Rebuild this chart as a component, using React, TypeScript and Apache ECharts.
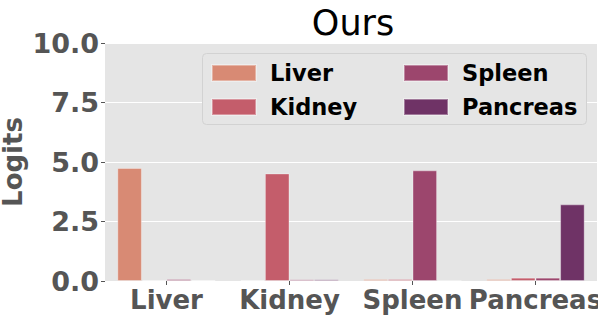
import React, { useEffect, useRef } from "react";
import * as echarts from "echarts";

const categories = ["Liver", "Kidney", "Spleen", "Pancreas"];
const seriesNames = ["Liver", "Kidney", "Spleen", "Pancreas"];
const liverValues = [4.75, 0.04, 0.08, 0.08];
const kidneyValues = [0.04, 4.52, 0.08, 0.14];
const spleenValues = [0.08, 0.07, 4.65, 0.14];
const pancreasValues = [0.04, 0.07, 0.02, 3.22];
const colors = ["#d88a74", "#c45d6b", "#9c466d", "#6f3366"];
const yTicks = [0, 2.5, 5, 7.5, 10];
const yAxisTitle = "Logits";

export default function App() {
  const ref = useRef<HTMLDivElement>(null);
  useEffect(() => {
    if (!ref.current) return;
    const chart = echarts.init(ref.current, null, { renderer: "svg" });
    const values = [liverValues, kidneyValues, spleenValues, pancreasValues];
    const font = "DejaVu Sans";
    const legendCommon = {
      orient: "vertical",
      top: 61.4,
      padding: 0,
      itemWidth: 44,
      itemHeight: 16,
      itemGap: 11,
      icon: "rect",
      textStyle: { fontFamily: font, fontSize: 22.5, fontWeight: "bold", color: "#000", lineHeight: 16, padding: [0, 0, 0, 9] },
    };
    chart.setOption({
      animation: false,
      backgroundColor: "#ffffff",
      title: {
        text: "Ours",
        left: 348,
        textAlign: "center",
        top: 0,
        textStyle: { fontFamily: font, fontSize: 35, fontWeight: "normal", color: "#000" },
      },
      grid: {
        left: 105,
        right: 1,
        top: 43,
        bottom: 36,
        backgroundColor: "#e5e5e5",
        show: true,
        borderWidth: 0,
        containLabel: false,
        outerBoundsMode: "none",
      },
      legend: [
        { ...legendCommon, data: seriesNames.slice(0, 2), left: 211 },
        { ...legendCommon, data: seriesNames.slice(2, 4), left: 403 },
      ],
      graphic: [
        {
          type: "rect",
          z: 3,
          shape: { x: 202.5, y: 53.5, width: 384, height: 71, r: 4 },
          style: { fill: "#e5e5e5", stroke: "#d2d2d2", lineWidth: 1 },
        },
        {
          type: "text",
          x: 13,
          y: 162,
          rotation: Math.PI / 2,
          style: {
            text: yAxisTitle,
            fontFamily: font,
            fontSize: 26,
            fontWeight: "bold",
            fill: "#555",
            align: "center",
            verticalAlign: "middle",
          },
        },
      ],
      xAxis: {
        type: "category",
        data: categories,
        axisLine: { show: false },
        axisTick: { show: true, alignWithLabel: true, length: 4, lineStyle: { color: "#555" } },
        axisLabel: { interval: 0, fontFamily: font, fontSize: 26, fontWeight: "bold", color: "#555", margin: 6 },
        splitLine: { show: false },
      },
      yAxis: {
        type: "value",
        min: yTicks[0],
        max: yTicks[yTicks.length - 1],
        interval: 2.5,
        axisLine: { show: false },
        axisTick: { show: true, length: 4, lineStyle: { color: "#555" } },
        axisLabel: {
          fontFamily: font,
          fontSize: 27,
          fontWeight: "bold",
          color: "#555",
          margin: 6,
          formatter: (v: number) => v.toFixed(1),
        },
        splitLine: { show: true, lineStyle: { color: "#ffffff", width: 1 } },
      },
      series: seriesNames.map((name, i) => ({
        name,
        type: "bar",
        data: values[i],
        barGap: "0%",
        barCategoryGap: "20%",
        itemStyle: { color: colors[i], borderColor: "rgba(255,255,255,0.35)", borderWidth: 1 },
      })),
    });
    return () => chart.dispose();
  }, []);
  return <div ref={ref} style={{ position: "fixed", left: 0, top: 0, width: 598, height: 317 }} />;
}
